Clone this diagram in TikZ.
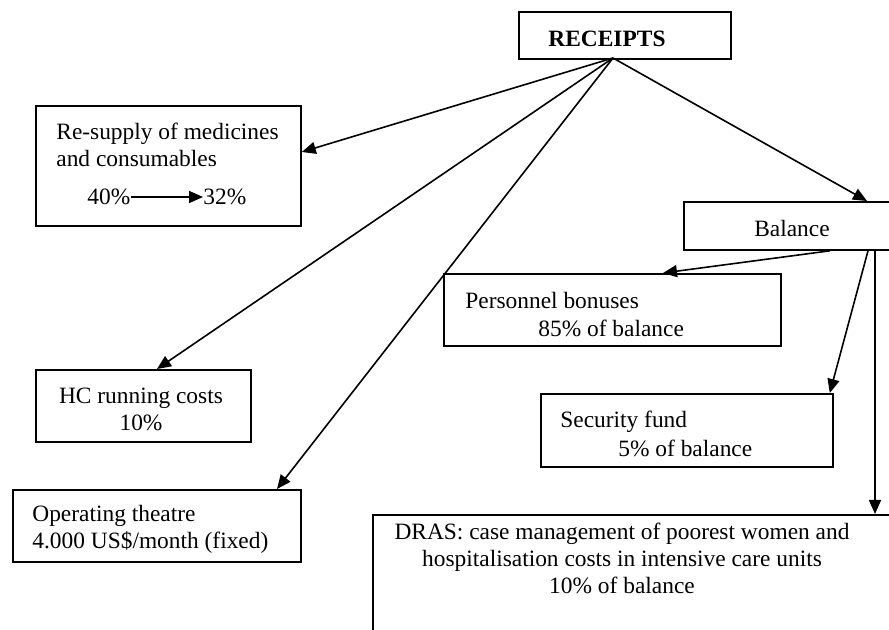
\documentclass[tikz,border=0pt]{standalone}
\usepackage{fontspec}
\setmainfont{Liberation Serif}
\usetikzlibrary{arrows.meta,calc}

\tikzset{
  box/.style={draw, line width=0.9pt, anchor=north west, inner sep=0pt},
  flow/.style={line width=0.8pt, -{Triangle[length=7pt,width=6pt]}},
  lbl/.style={inner sep=0pt, font=\fontsize{11.7}{13.5}\selectfont},
}

\begin{document}
\begin{tikzpicture}[x=0.5pt,y=-0.5pt]
		\clip (0,0) rectangle (889,630);
		% boxes
		\node[box, minimum width=106pt, minimum height=23.5pt] (receipts) at (518,11) {};
		\node[box, minimum width=132.5pt, minimum height=60pt] (resupply) at (35,105) {};
		\node[box, minimum width=130pt, minimum height=24pt] (balance) at (683,201) {};
		\node[box, minimum width=168.5pt, minimum height=36pt] (bonus) at (443,273) {};
		\node[box, minimum width=107.5pt, minimum height=36pt] (running) at (35,369) {};
		\node[box, minimum width=146pt, minimum height=36.5pt] (security) at (540,393) {};
		\node[box, minimum width=144pt, minimum height=36pt] (theatre) at (12,489) {};
		\node[box, minimum width=300pt, minimum height=80pt] (dras) at (372,514) {};
		%
		\node[lbl, font=\fontsize{11.7}{13.5}\selectfont\bfseries] (receiptstxt) at (607,39) {RECEIPTS};
		\node[lbl, anchor=west, align=left] (resupplytxt) at (56,144.5) {Re-supply of medicines\\and consumables};
		\node[lbl, anchor=west] (pct40) at (87,197) {40\%};
		\node[lbl, anchor=west] (pct32) at (203,197) {32\%};
		\node[lbl] (balancetxt) at (792,228) {Balance};
		\node[lbl, anchor=west] (bonustxt) at (465,300) {Personnel bonuses};
		\node[lbl, anchor=west] (bonuspct) at (538,328) {85\% of balance};
		\node[lbl, align=center] (runningtxt) at (141,409) {HC running costs\\10\%};
		\node[lbl, anchor=west] (securitytxt) at (560,422) {Security fund};
		\node[lbl, anchor=west] (securitypct) at (618,448) {5\% of balance};
		\node[lbl, anchor=west, align=left] (theatretxt) at (32,529) {Operating theatre\\4.000 US\$/month (fixed)};
		\node[lbl, align=center] (drastxt) at (622,558) {DRAS: case management of poorest women and\\hospitalisation costs in intensive care units\\10\% of balance};
		%
		\coordinate (hub) at (613,58);
		\draw[flow] (hub) -- ($(resupply.north east)+(0,47)$);
		\draw[flow] (hub) -- ($(running.north west)+(122,0)$);
		\draw[flow] (hub) -- ($(theatre.north west)+(265,0)$);
		\draw[flow] (hub) -- ($(balance.north west)+(184,0)$);
		\draw[flow] ($(balance.south west)+(147,0)$) -- ($(bonus.north west)+(220,0)$);
		\draw[flow] ($(balance.south west)+(185,0)$) -- ($(security.north east)+(-4,0)$);
		\draw[flow] ($(balance.south west)+(192,0)$) -- ($(dras.north west)+(503,0)$);
		\draw[flow] (pct40.east) -- (pct32.west);
	\end{tikzpicture}
\end{document}
